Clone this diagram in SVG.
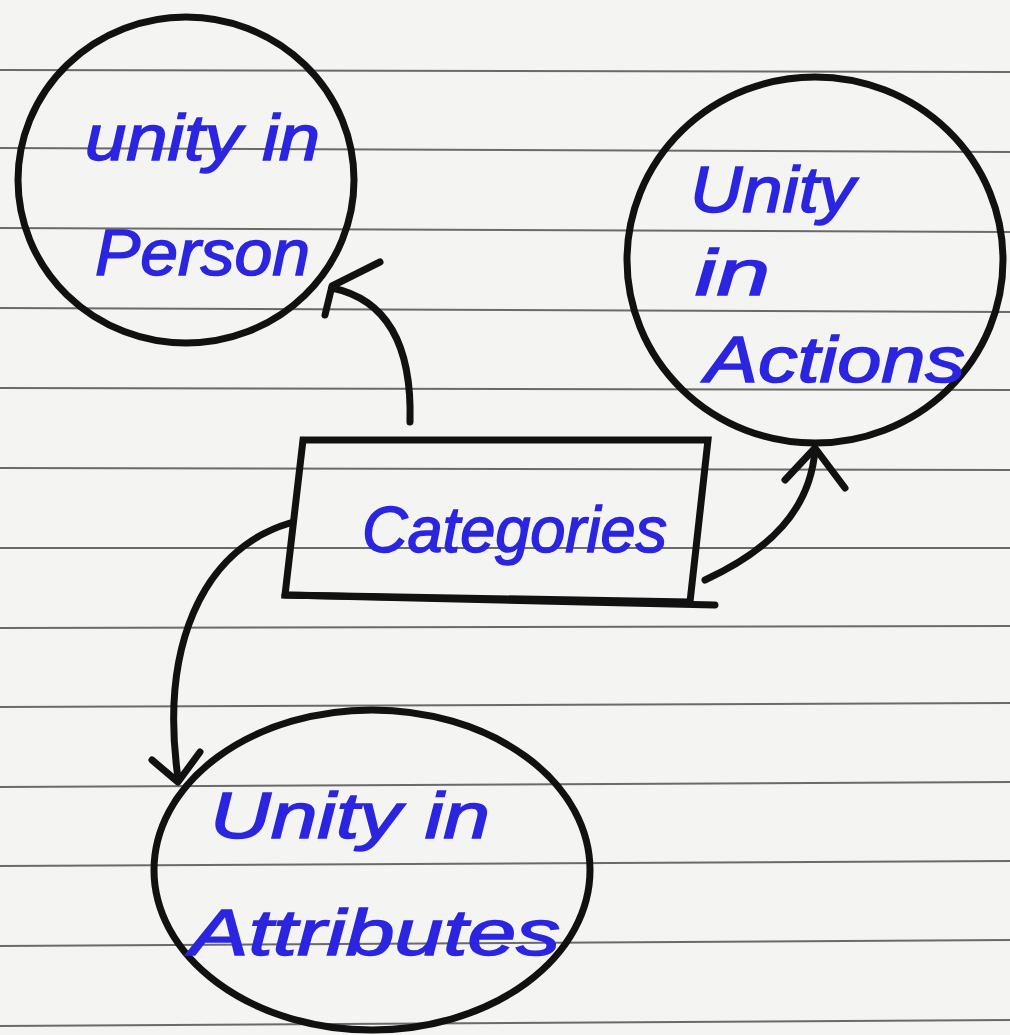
<svg xmlns="http://www.w3.org/2000/svg" width="1010" height="1035" viewBox="0 0 1010 1035">
<defs>
<style>
.rule{stroke:#6a6a6a;stroke-width:2;fill:none}
.node{fill:none;stroke:#111;stroke-width:7}
.conn{fill:none;stroke:#111;stroke-width:7;stroke-linecap:round;stroke-linejoin:round}
.lbl{font-family:"Liberation Sans","DejaVu Sans",sans-serif;font-style:italic;fill:#2b25e0;font-size:64px;stroke:#2b25e0;stroke-width:1.5}
</style>
</defs>
<rect width="1010" height="1035" fill="#f4f4f2"/>
<g id="ruling">
<line class="rule" x1="0" y1="70" x2="1010" y2="72"/>
<line class="rule" x1="0" y1="148" x2="1010" y2="152"/>
<line class="rule" x1="0" y1="228" x2="1010" y2="232"/>
<line class="rule" x1="0" y1="308" x2="1010" y2="312"/>
<line class="rule" x1="0" y1="388" x2="1010" y2="390"/>
<line class="rule" x1="0" y1="468" x2="1010" y2="470"/>
<line class="rule" x1="0" y1="548" x2="1010" y2="548"/>
<line class="rule" x1="0" y1="628" x2="1010" y2="626"/>
<line class="rule" x1="0" y1="707" x2="1010" y2="703"/>
<line class="rule" x1="0" y1="787" x2="1010" y2="782"/>
<line class="rule" x1="0" y1="866" x2="1010" y2="861"/>
<line class="rule" x1="0" y1="946" x2="1010" y2="940"/>
<line class="rule" x1="0" y1="1026" x2="1010" y2="1020"/>
</g>
<g id="connectors">
<path class="conn" d="M410,422 C412,350 390,300 332,288"/>
<path class="conn" d="M380,262 L332,286 L325,315"/>
<path class="conn" d="M705,580 C770,550 810,510 815,450"/>
<path class="conn" d="M785,480 L815,448 L845,488"/>
<path class="conn" d="M290,523 C200,550 160,650 178,778"/>
<path class="conn" d="M152,760 L178,782 L200,752"/>
</g>
<g id="person">
<ellipse class="node" cx="186" cy="180" rx="168" ry="163"/>
<text class="lbl" x="85" y="160" textLength="235" lengthAdjust="spacingAndGlyphs">unity in</text>
<text class="lbl" x="95" y="275" textLength="215" lengthAdjust="spacingAndGlyphs">Person</text>
</g>
<g id="actions">
<ellipse class="node" cx="815" cy="260" rx="188" ry="183"/>
<text class="lbl" x="690" y="212" textLength="165" lengthAdjust="spacingAndGlyphs">Unity</text>
<text class="lbl" x="695" y="295" textLength="75" lengthAdjust="spacingAndGlyphs">in</text>
<text class="lbl" x="705" y="382" textLength="260" lengthAdjust="spacingAndGlyphs">Actions</text>
</g>
<g id="categories">
<path class="node" d="M303,440 L708,440 L690,602 L285,595 Z"/>
<line class="conn" x1="285" y1="595" x2="715" y2="605"/>
<text class="lbl" x="362" y="552" textLength="305" lengthAdjust="spacingAndGlyphs">Categories</text>
</g>
<g id="attributes">
<ellipse class="node" cx="372" cy="870" rx="218" ry="160"/>
<text class="lbl" x="210" y="838" textLength="280" lengthAdjust="spacingAndGlyphs">Unity in</text>
<text class="lbl" x="190" y="955" textLength="370" lengthAdjust="spacingAndGlyphs">Attributes</text>
</g>
</svg>
